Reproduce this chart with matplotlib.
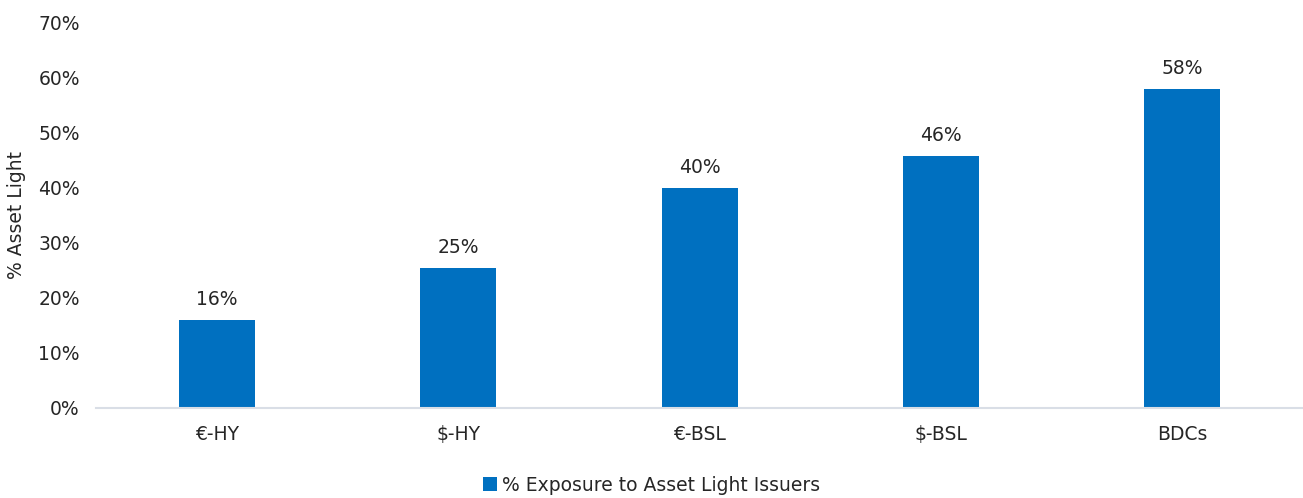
import matplotlib
matplotlib.use("Agg")
import matplotlib.pyplot as plt
from matplotlib.ticker import PercentFormatter

categories = ["€-HY", "$-HY", "€-BSL", "$-BSL", "BDCs"]
exposure = [16.0, 25.4, 40.0, 45.8, 58.0]
yticks = [0, 10, 20, 30, 40, 50, 60, 70]
series_name = "% Exposure to Asset Light Issuers"

plt.rcParams["font.family"] = ["DejaVu Sans"]
text_color = "#262626"
bar_color = "#0070C0"
fs = 13.5

fig = plt.figure(figsize=(13.03, 4.98), dpi=100)
ax = fig.add_axes([0.074, 0.181, 0.926, 0.773])

x = range(len(categories))
bars = ax.bar(x, exposure, width=0.315, color=bar_color, label=series_name, zorder=2)
for rect, v in zip(bars, exposure):
    ax.annotate(f"{v:.0f}%", (rect.get_x() + rect.get_width() / 2, v),
                xytext=(0, 8), textcoords="offset points", ha="center", va="bottom",
                fontsize=fs, color=text_color)

ax.set_xlim(-0.5, len(categories) - 0.5)
ax.set_ylim(0, 70)
ax.set_yticks(yticks)
ax.yaxis.set_major_formatter(PercentFormatter(decimals=0))
ax.set_xticks(list(x))
ax.set_xticklabels(categories)
ax.tick_params(axis="both", length=0, labelsize=fs, colors=text_color)
ax.tick_params(axis="x", pad=12)
ax.tick_params(axis="y", pad=12)

for side in ["top", "right", "left"]:
    ax.spines[side].set_visible(False)
ax.spines["bottom"].set_color("#D9DEE6")
ax.spines["bottom"].set_linewidth(1.5)

ax.set_ylabel("% Asset Light", fontsize=fs, color=text_color)
ax.yaxis.set_label_coords(-0.058, 0.5)

fig.legend(loc="center", bbox_to_anchor=(0.5, 0.026), frameon=False, fontsize=fs,
           handlelength=0.75, handleheight=0.75, handletextpad=0.3, labelcolor=text_color)

fig.savefig("out.png", dpi=100)
